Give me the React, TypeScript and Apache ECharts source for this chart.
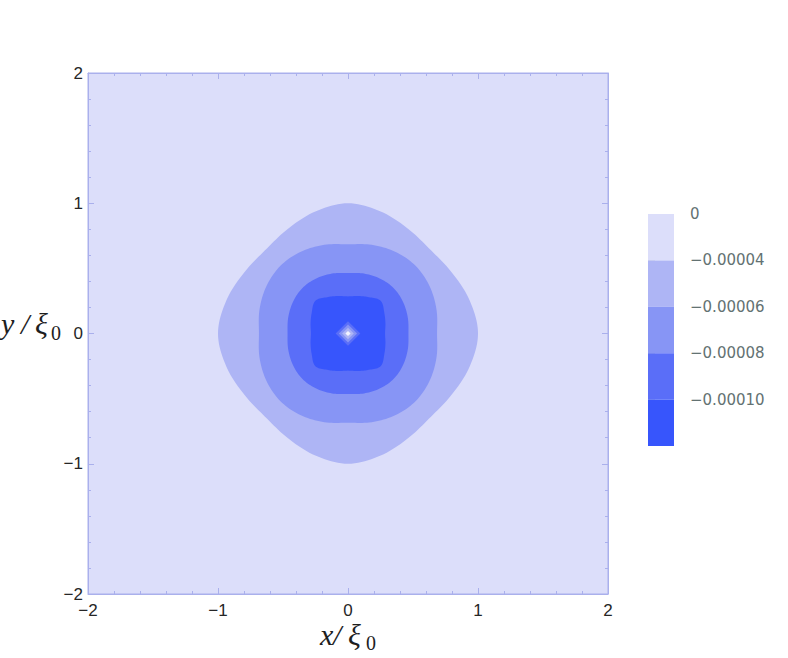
import React, { useEffect, useRef } from "react";
import * as echarts from "echarts";

// Contour levels (colour-bar boundaries, top to bottom)
const levelValues = [0, -0.00004, -0.00006, -0.00008, -0.0001];
// Band fill colours, lightest (0 .. -0.00004) to darkest
const bandColors = ["#dcdefa", "#aeb5f5", "#8795f5", "#5a6ef8", "#3755fc"];

// Axis ticks
const axisTicks = [-2, -1, 0, 1, 2];

// Contour boundaries: radius (in units of xi0) at these polar angles (degrees),
// first quadrant; the pattern repeats in the other three quadrants.
const contourAngles = [0, 15, 30, 45, 60, 75, 90];
const radiiM4 = [1.0, 0.97, 0.927, 0.903, 0.927, 0.97, 1.0];
const radiiM6 = [0.685, 0.705, 0.725, 0.735, 0.725, 0.705, 0.685];
const radiiM8 = [0.465, 0.476, 0.488, 0.495, 0.488, 0.476, 0.465];
const radiiM10 = [0.285, 0.298, 0.322, 0.355, 0.322, 0.298, 0.285];
const contourRadii = [radiiM4, radiiM6, radiiM8, radiiM10];

// Small diamond-shaped rise at the centre (half-diagonals), outer to inner, and their band index
const centerDiamondRadii = [0.095, 0.07, 0.045, 0.02];
const centerDiamondBand = [3, 2, 1, 0];

const fmtLevel = (v: number) => (v === 0 ? "0" : "\u2212" + Math.abs(v).toFixed(5));
const fmtTick = (v: number) => (v < 0 ? "\u2212" + Math.abs(v) : String(v));

// Smooth closed outline through the read radii (periodic Catmull-Rom in polar form), drawn as a polygon
function ringPoints(radii: number[]) {
  const base: number[] = [];
  const per = contourAngles.length - 1;
  for (let q = 0; q < 4; q++) for (let i = 0; i < per; i++) base.push(radii[i]);
  const n = base.length;
  const step = (2 * Math.PI) / n;
  const sub = 10;
  const pts: number[][] = [];
  for (let k = 0; k < n; k++) {
    const p0 = base[(k - 1 + n) % n];
    const p1 = base[k];
    const p2 = base[(k + 1) % n];
    const p3 = base[(k + 2) % n];
    for (let s = 0; s < sub; s++) {
      const t = s / sub;
      const r =
        0.5 *
        (2 * p1 +
          (-p0 + p2) * t +
          (2 * p0 - 5 * p1 + 4 * p2 - p3) * t * t +
          (-p0 + 3 * p1 - 3 * p2 + p3) * t * t * t);
      const a = (k + t) * step;
      pts.push([r * Math.cos(a), r * Math.sin(a)]);
    }
  }
  return pts;
}

const frameColor = "#aab0ec";
const tickFont = { fontFamily: "Liberation Sans", fontSize: 17, color: "#262626" };

function mainXAxis(position: "bottom" | "top", showLabel: boolean) {
  return {
    type: "value",
    gridIndex: 0,
    position,
    min: axisTicks[0],
    max: axisTicks[axisTicks.length - 1],
    interval: 1,
    axisLine: { show: true, onZero: false, lineStyle: { color: frameColor, width: 1 } },
    axisTick: { show: true, inside: true, length: 6, lineStyle: { color: frameColor } },
    minorTick: { show: true, splitNumber: 5, length: 3, lineStyle: { color: frameColor } },
    splitLine: { show: false },
    axisLabel: { show: showLabel, formatter: fmtTick, margin: 8, lineHeight: 17, ...tickFont },
  };
}
function mainYAxis(position: "left" | "right", showLabel: boolean) {
  return {
    type: "value",
    gridIndex: 0,
    position,
    min: axisTicks[0],
    max: axisTicks[axisTicks.length - 1],
    interval: 1,
    axisLine: { show: true, onZero: false, lineStyle: { color: frameColor, width: 1 } },
    axisTick: { show: true, inside: true, length: 6, lineStyle: { color: frameColor } },
    minorTick: { show: true, splitNumber: 5, length: 3, lineStyle: { color: frameColor } },
    splitLine: { show: false },
    axisLabel: { show: showLabel, formatter: fmtTick, margin: 5, ...tickFont },
  };
}

const titleFont = 'italic 30px "Liberation Serif"';
const subFont = '20px "Liberation Serif"';
function glyph(text: string, x: number, baseline: number, font: string, size: number) {
  return {
    type: "text",
    x,
    y: baseline - size * 0.33,
    style: { text, font, fill: "#1e1e1e", align: "left", verticalAlign: "middle", lineHeight: Math.round(size * 0.8) },
    silent: true,
  };
}

export default function App() {
  const ref = useRef<HTMLDivElement>(null);
  useEffect(() => {
    document.body.style.margin = "0";
    const chart = echarts.init(ref.current!, null, { renderer: "svg" });
    const nBands = levelValues.length;
    chart.setOption({
      animation: false,
      backgroundColor: "#ffffff",
      grid: [
        { left: 88, top: 73, width: 520, height: 521, show: true, backgroundColor: bandColors[0], borderColor: frameColor, borderWidth: 1 },
        { left: 648, top: 214, width: 26, height: 232, show: false },
      ],
      xAxis: [
        mainXAxis("bottom", true),
        mainXAxis("top", false),
        { type: "value", gridIndex: 1, min: 0, max: 1, show: false },
      ],
      yAxis: [
        mainYAxis("left", true),
        mainYAxis("right", false),
        {
          type: "value",
          gridIndex: 1,
          position: "right",
          min: 0,
          max: nBands,
          interval: 1,
          axisLine: { show: false },
          axisTick: { show: true, length: 7, lineStyle: { color: "#e2e2e2" }, customValues: [1, 2, 3, 4] },
          splitLine: { show: false },
          axisLabel: {
            margin: 16,
            fontFamily: "DejaVu Sans",
            fontSize: 15,
            color: "#637272",
            formatter: (v: number) => {
              const idx = nBands - v;
              return idx >= 0 && idx < nBands ? fmtLevel(levelValues[idx]) : "";
            },
          },
        },
      ],
      series: [
        {
          type: "custom",
          xAxisIndex: 0,
          yAxisIndex: 0,
          silent: true,
          z: 2,
          data: contourRadii.map((_, i) => [0, 0, i]),
          encode: { x: 0, y: 1 },
          renderItem: (params: any, api: any) => {
            const i = api.value(2);
            const pts = ringPoints(contourRadii[i]).map((p) => api.coord(p));
            return { type: "polygon", shape: { points: pts }, style: { fill: bandColors[i + 1] } };
          },
        },
        {
          type: "custom",
          xAxisIndex: 0,
          yAxisIndex: 0,
          silent: true,
          z: 3,
          data: centerDiamondRadii.map((r, i) => [0, 0, r, centerDiamondBand[i]]),
          encode: { x: 0, y: 1 },
          renderItem: (params: any, api: any) => {
            const r = api.value(2);
            const b = api.value(3);
            const pts = [[0, r], [r, 0], [0, -r], [-r, 0]].map((p) => api.coord(p));
            return { type: "polygon", shape: { points: pts }, style: { fill: b === 0 ? "#f2f3ff" : bandColors[b] } };
          },
        },
        {
          type: "custom",
          xAxisIndex: 2,
          yAxisIndex: 2,
          silent: true,
          data: bandColors.map((_, i) => [0, i]),
          encode: { x: 0, y: 1 },
          renderItem: (params: any, api: any) => {
            const i = api.value(1);
            const top = nBands - i;
            const p1 = api.coord([0, top]);
            const p2 = api.coord([1, top - 1]);
            return {
              type: "rect",
              shape: { x: p1[0], y: p1[1], width: p2[0] - p1[0], height: p2[1] - p1[1] },
              style: { fill: bandColors[i] },
            };
          },
        },
      ],
      graphic: [
        glyph("x", 320, 644, titleFont, 30),
        glyph("/", 333, 644, titleFont, 30),
        glyph("\u03be", 348, 644, titleFont, 30),
        glyph("0", 366, 650, subFont, 20),
        glyph("y", 1, 333, titleFont, 30),
        glyph("/", 21, 333, titleFont, 30),
        glyph("\u03be", 35, 333, titleFont, 30),
        glyph("0", 51, 340, subFont, 20),
      ],
    });
    return () => chart.dispose();
  }, []);
  return <div ref={ref} style={{ width: 788, height: 658 }} />;
}
